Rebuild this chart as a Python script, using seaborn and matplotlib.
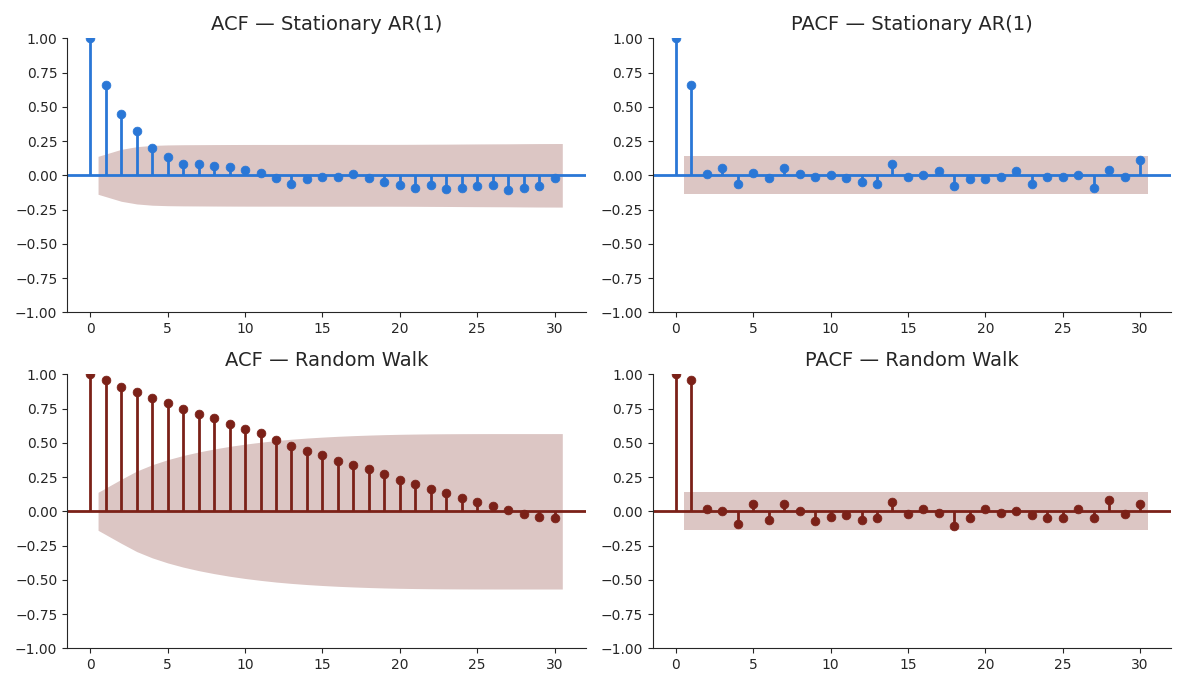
import numpy as np
import pandas as pd
import matplotlib
matplotlib.use("Agg")
import matplotlib.pyplot as plt
import seaborn as sns

n_obs = 200
lags = list(range(31))

acf_ar = [1.0, 0.66, 0.45, 0.32, 0.20, 0.13, 0.08, 0.08, 0.07, 0.06, 0.04, 0.02, -0.02, -0.06, -0.03,
          -0.01, -0.01, 0.01, -0.02, -0.05, -0.07, -0.09, -0.07, -0.10, -0.09, -0.08, -0.07, -0.11,
          -0.09, -0.08, -0.02]
pacf_ar = [1.0, 0.66, 0.01, 0.05, -0.06, 0.02, -0.02, 0.05, 0.01, -0.01, 0.00, -0.02, -0.05, -0.06,
           0.08, -0.01, 0.00, 0.03, -0.08, -0.03, -0.03, -0.01, 0.03, -0.06, -0.01, -0.01, 0.00,
           -0.09, 0.04, -0.01, 0.11]
acf_rw = [1.0, 0.96, 0.91, 0.87, 0.83, 0.79, 0.75, 0.71, 0.68, 0.64, 0.60, 0.57, 0.52, 0.48, 0.44,
          0.41, 0.37, 0.34, 0.31, 0.27, 0.23, 0.20, 0.16, 0.13, 0.10, 0.07, 0.04, 0.01, -0.02,
          -0.04, -0.05]
pacf_rw = [1.0, 0.96, 0.02, 0.00, -0.09, 0.05, -0.06, 0.05, 0.00, -0.07, -0.04, -0.03, -0.06, -0.05,
           0.07, -0.02, 0.02, -0.01, -0.11, -0.05, 0.02, -0.01, 0.00, -0.03, -0.05, -0.05, 0.02,
           -0.05, 0.08, -0.02, 0.05]

blue = "#2a77d6"
red = "#7b2118"
band_color = "#dcc6c4"


def bartlett(vals):
    r = np.array(vals)
    cum = np.concatenate([[0.0], np.cumsum(r[1:-1] ** 2)])
    return 1.96 / np.sqrt(n_obs) * np.sqrt(1 + 2 * cum)


def pacf_band(vals):
    return np.full(len(vals) - 1, 1.96 / np.sqrt(n_obs))


def draw(ax, vals, color, title, band):
    df = pd.DataFrame({"lag": lags, "value": vals})
    x = np.array(lags[1:], dtype=float)
    x[0] -= 0.5
    x[-1] += 0.5
    ax.fill_between(x, -band, band, color=band_color, lw=0, zorder=0)
    ax.axhline(0, color=color, lw=2, zorder=1)
    ax.vlines(df["lag"], 0, df["value"], color=color, lw=2, zorder=2)
    sns.scatterplot(data=df, x="lag", y="value", ax=ax, color=color, s=40,
                    edgecolor=color, zorder=3, legend=False)
    ax.set_ylim(-1, 1)
    ax.set_xlim(-1.5, 32)
    ax.set_yticks(np.arange(-1, 1.01, 0.25))
    ax.set_title(title, fontsize=14)
    ax.set_xlabel("")
    ax.set_ylabel("")
    sns.despine(ax=ax)


sns.set_style("ticks")
fig, axes = plt.subplots(2, 2, figsize=(11.86, 6.87), dpi=100)
draw(axes[0, 0], acf_ar, blue, "ACF — Stationary AR(1)", bartlett(acf_ar))
draw(axes[0, 1], pacf_ar, blue, "PACF — Stationary AR(1)", pacf_band(pacf_ar))
draw(axes[1, 0], acf_rw, red, "ACF — Random Walk", bartlett(acf_rw))
draw(axes[1, 1], pacf_rw, red, "PACF — Random Walk", pacf_band(pacf_rw))
axes[0, 1].set_xlim(-1.5, 32)
plt.tight_layout()
plt.savefig("out.png", dpi=100)
